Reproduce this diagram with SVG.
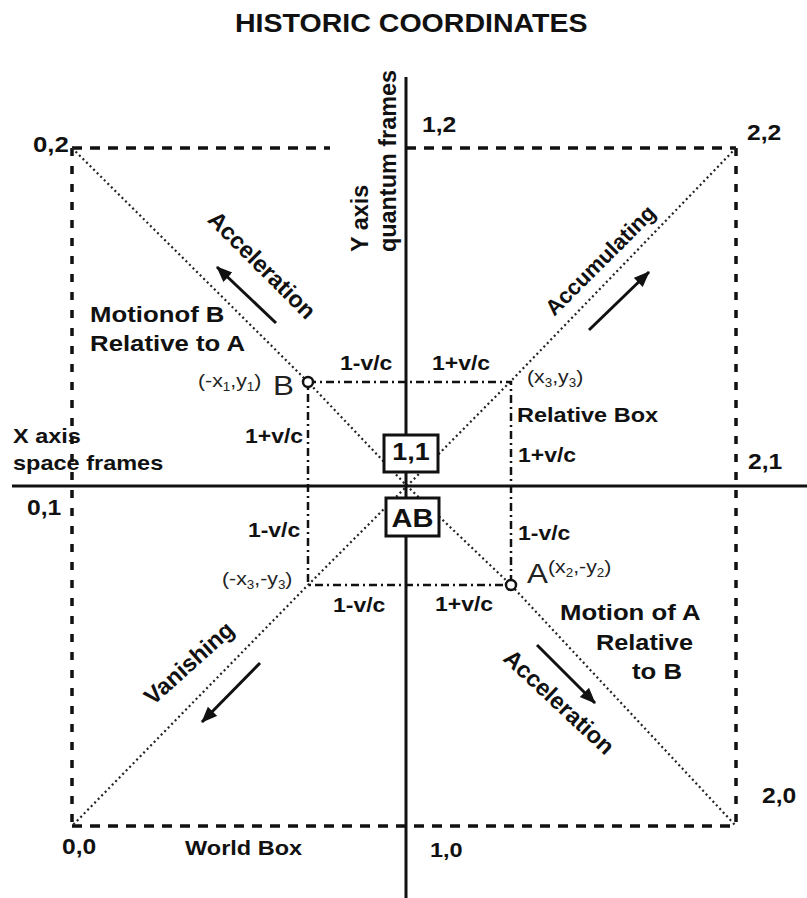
<svg xmlns="http://www.w3.org/2000/svg" width="807" height="898" viewBox="0 0 807 898">
<style>
.b{font-family:"Liberation Sans",Arial,sans-serif;font-weight:bold;fill:#111}
.r{font-family:"Liberation Sans",Arial,sans-serif;fill:#222}
.sub{font-size:12px}
.world{fill:none;stroke:#111;stroke-width:3.5}
.wh{stroke-dasharray:10 8}
.wv{stroke-dasharray:8 10}
.axis{stroke:#111;stroke-width:3;fill:none}
.diag{fill:none;stroke:#222;stroke-width:2.2;stroke-dasharray:2 3}
.rel{fill:none;stroke:#111;stroke-width:2.5;stroke-dasharray:8 4 2 4}
.arr{stroke:#111;stroke-width:3;fill:none;marker-end:url(#ah)}
.box{fill:#fff;stroke:#111;stroke-width:3}
.pt{fill:#fff;stroke:#111;stroke-width:2.5}
</style>
<defs>
<marker id="ah" markerUnits="userSpaceOnUse" markerWidth="18" markerHeight="14" refX="15" refY="6.5" orient="auto">
<path d="M0,0 L16,6.5 L0,13 z" fill="#111"/>
</marker>
</defs>
<rect width="807" height="898" fill="#fff"/>

<g id="connectors">
<!-- world box -->
<line class="world wh" x1="72" y1="148" x2="330" y2="148"/>
<line class="world wh" x1="406" y1="148" x2="736" y2="148"/>
<line class="world wh" x1="72" y1="826" x2="736" y2="826"/>
<line class="world wv" x1="72" y1="148" x2="72" y2="826"/>
<line class="world wv" x1="736" y1="148" x2="736" y2="826"/>
<!-- diagonals -->
<polyline class="diag" points="72,148 308,382 407,486 511,585 736,826"/>
<polyline class="diag" points="736,148 510,382 407,486 308,585 72,826"/>
<!-- relative box -->
<rect class="rel" x="308" y="382" width="203" height="203"/>
<!-- axes -->
<line class="axis" x1="406" y1="77" x2="406" y2="898"/>
<line class="axis" x1="12" y1="486" x2="807" y2="486"/>
<!-- motion arrows -->
<line class="arr" x1="276" y1="323" x2="217" y2="267"/>
<line class="arr" x1="589" y1="330" x2="649" y2="272"/>
<line class="arr" x1="260" y1="663" x2="202" y2="722"/>
<line class="arr" x1="537" y1="645" x2="595" y2="703"/>
</g>

<g id="node-11">
<rect class="box" x="384" y="435" width="54" height="37"/>
</g>
<g id="node-AB">
<rect class="box" x="386" y="498" width="53" height="38"/>
</g>
<g id="node-B">
<circle class="pt" cx="308" cy="382" r="5"/>
</g>
<g id="node-A">
<circle class="pt" cx="511" cy="585" r="5"/>
</g>

<g id="labels" transform="scale(1.12 1)">
<text class="b" x="209.8" y="32" font-size="25.5">HISTORIC COORDINATES</text>
<text class="b" x="29.5" y="152" font-size="23">0,2</text>
<text class="b" x="376.8" y="132" font-size="22">1,2</text>
<text class="b" x="667" y="140" font-size="22">2,2</text>
<text class="b" x="80.4" y="322" font-size="23">Motionof B</text>
<text class="b" x="80.4" y="351" font-size="23">Relative to A</text>
<text class="b" x="11.6" y="443" font-size="21">X axis</text>
<text class="b" x="11.6" y="470" font-size="21">space frames</text>
<text class="b" x="24.1" y="515" font-size="22">0,1</text>
<text class="b" x="667.9" y="469" font-size="22">2,1</text>
<text class="b" x="680.4" y="803" font-size="22">2,0</text>
<text class="b" x="383.9" y="857" font-size="21">1,0</text>
<text class="b" x="55.4" y="854" font-size="22">0,0</text>
<text class="b" x="165.2" y="855" font-size="21">World Box</text>
<text class="b" x="461.6" y="422" font-size="21">Relative Box</text>
<text class="b" x="303.6" y="370" font-size="20.5">1-v/c</text>
<text class="b" x="385.7" y="370" font-size="20.5">1+v/c</text>
<text class="b" x="218.8" y="443" font-size="20.5">1+v/c</text>
<text class="b" x="221.4" y="537" font-size="20.5">1-v/c</text>
<text class="b" x="462.5" y="462" font-size="20.5">1+v/c</text>
<text class="b" x="462.5" y="540" font-size="20.5">1-v/c</text>
<text class="b" x="297.3" y="612" font-size="20.5">1-v/c</text>
<text class="b" x="388.4" y="611" font-size="20.5">1+v/c</text>
<text class="b" x="500" y="620" font-size="23">Motion of A</text>
<text class="b" x="532.1" y="650" font-size="22.6">Relative</text>
<text class="b" x="564.3" y="679" font-size="23">to B</text>
<text class="b" x="367" y="460" font-size="24" text-anchor="middle">1,1</text>
<text class="b" x="368.3" y="527" font-size="26" text-anchor="middle">AB</text>
<text class="r" x="243.8" y="395" font-size="28">B</text>
<text class="r" x="470.5" y="583" font-size="28">A</text>
<text class="r" x="176.8" y="387" font-size="19">(-x<tspan class="sub" dy="4">1</tspan><tspan dy="-4">,y</tspan><tspan class="sub" dy="4">1</tspan><tspan dy="-4">)</tspan></text>
<text class="r" x="470.5" y="383" font-size="19">(x<tspan class="sub" dy="4">3</tspan><tspan dy="-4">,y</tspan><tspan class="sub" dy="4">3</tspan><tspan dy="-4">)</tspan></text>
<text class="r" x="198.2" y="585" font-size="19">(-x<tspan class="sub" dy="4">3</tspan><tspan dy="-4">,-y</tspan><tspan class="sub" dy="4">3</tspan><tspan dy="-4">)</tspan></text>
<text class="r" x="489.3" y="573" font-size="19">(x<tspan class="sub" dy="4">2</tspan><tspan dy="-4">,-y</tspan><tspan class="sub" dy="4">2</tspan><tspan dy="-4">)</tspan></text>
</g>

<g id="rotated-labels">
<text class="b" font-size="23.4" transform="translate(368,252) rotate(-90)">Y axis</text>
<text class="b" font-size="23.4" transform="translate(396,252) rotate(-90)">quantum frames</text>
<text class="b" font-size="23.5" text-anchor="middle" transform="translate(262,265) rotate(45)" y="8">Acceleration</text>
<text class="b" font-size="22" text-anchor="middle" transform="translate(600,260) rotate(-45)" y="8">Accumulating</text>
<text class="b" font-size="23.5" text-anchor="middle" transform="translate(189,663) rotate(-42)" y="8">Vanishing</text>
<text class="b" font-size="23.5" text-anchor="middle" transform="translate(559,702) rotate(43)" y="8">Acceleration</text>
</g>
</svg>
